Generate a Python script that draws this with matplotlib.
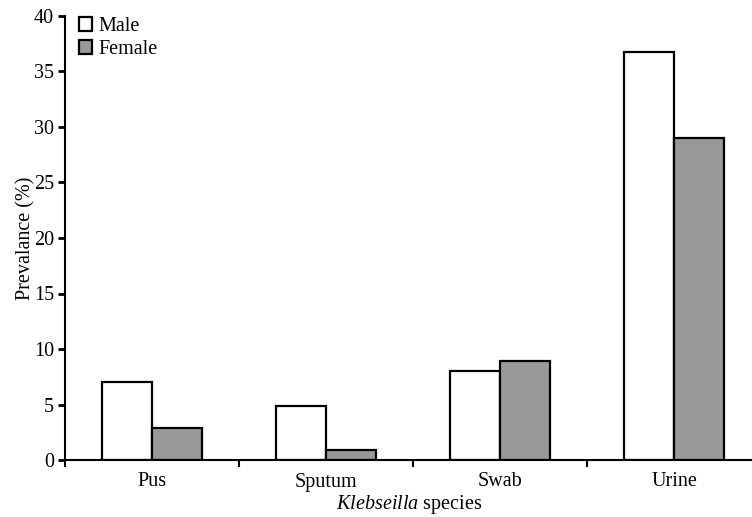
import matplotlib
matplotlib.use("Agg")
import matplotlib.pyplot as plt
from matplotlib.patches import Patch
import numpy as np

categories = ["Pus", "Sputum", "Swab", "Urine"]
male = [7.0, 4.9, 8.0, 36.8]
female = [2.9, 0.9, 8.9, 29.0]
yticks = [0, 5, 10, 15, 20, 25, 30, 35, 40]

plt.rcParams['font.family'] = ['Liberation Serif', 'DejaVu Serif']
plt.rcParams['font.size'] = 14.5
plt.rcParams['mathtext.fontset'] = 'custom'
plt.rcParams['mathtext.rm'] = 'Liberation Serif'
plt.rcParams['mathtext.it'] = 'Liberation Serif:italic'

fig = plt.figure(figsize=(7.52, 5.17), dpi=100)
ax = fig.add_axes([65/752, 1-460/517, 696/752, (460-16)/517])

x = np.arange(len(categories))
w = 0.287
ax.bar(x - w/2, male, w, color='white', edgecolor='black', linewidth=1.6)
ax.bar(x + w/2, female, w, color='#999999', edgecolor='black', linewidth=1.6)

ax.set_xlim(-0.5, 3.5)
ax.set_ylim(0, 40)
ax.set_yticks(yticks)
ax.set_xticks(np.arange(-0.5, 3.6, 1.0))
ax.set_xticklabels([])
ax.set_xticks(x, minor=True)
ax.set_xticklabels(categories, minor=True)
ax.tick_params(axis='x', which='minor', length=0, pad=9)
ax.tick_params(axis='x', which='major', length=5, width=1.5, direction='out')
ax.tick_params(axis='y', length=5, width=2, direction='out', pad=3)
for s in ['top', 'right']:
    ax.spines[s].set_visible(False)
for s in ['left', 'bottom']:
    ax.spines[s].set_linewidth(1.5)

ax.set_ylabel("Prevalance (%)")
ax.yaxis.set_label_coords((26 - 65) / 696, 0.5)
ax.yaxis.label.set_va('center')
ax.set_xlabel(r"$\mathit{Klebseilla}$ species")
ax.xaxis.set_label_coords((409 - 65) / 696, -(505 - 460) / 444)
ax.xaxis.label.set_va('center')

handles = [Patch(facecolor='white', edgecolor='black', linewidth=1.6, label='Male'),
           Patch(facecolor='#999999', edgecolor='black', linewidth=1.6, label='Female')]
ax.legend(handles=handles, loc='upper left', bbox_to_anchor=(0.009, 1.016), frameon=False,
          handlelength=0.65, handleheight=0.65, handletextpad=0.3, labelspacing=0.2,
          borderaxespad=0)

fig.savefig("out.png", dpi=100)
